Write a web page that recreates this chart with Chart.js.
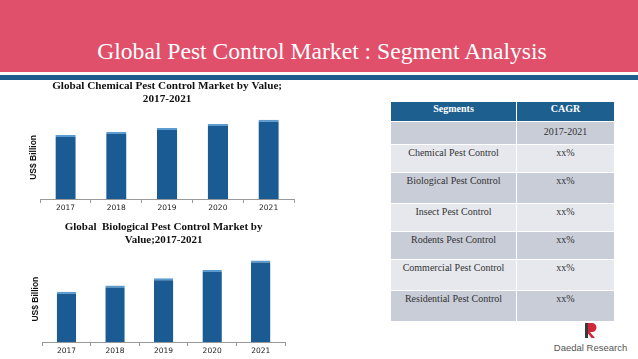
<!DOCTYPE html>
<html>
<head>
<meta charset="utf-8">
<script src="https://cdn.jsdelivr.net/npm/chart.js@4.4.1/dist/chart.umd.min.js"></script>
<style>
  html, body { margin: 0; padding: 0; }
  body { width: 638px; height: 359px; background: #fff; position: relative; overflow: hidden; font-family: 'Liberation Serif', serif; }
  .band { position: absolute; left: 0; top: 0; width: 638px; height: 72px; background: #e0506b; }
  .band-white { position: absolute; left: 0; top: 72px; width: 638px; height: 3px; background: #fff; }
  .band-blue { position: absolute; left: 0; top: 75px; width: 638px; height: 5px; background: #1f5e8c; }
  .page-title { position: absolute; left: 3px; top: 37px; width: 638px; text-align: center; color: #fff; font-size: 23.6px; line-height: 28px; }
  .box { position: absolute; }
  #chemBox { left: 24px; top: 78px; width: 286px; height: 136px; }
  #bioBox { left: 26px; top: 219px; width: 275px; height: 138px; }
  table { position: absolute; left: 390px; top: 101px; width: 225px; border-collapse: collapse; font-size: 10px; color: #333; }
  td, th { border: 1px solid #fff; text-align: center; vertical-align: top; padding: 2px 2px 0 2px; line-height: 11px; }
  th { background: #1d5f8f; color: #fff; font-weight: bold; height: 18px; padding-top: 1px; }
  tr.dark td { background: #c9cdd8; }
  tr.light td { background: #e6e8ee; }
  .logo { position: absolute; left: 548px; top: 322px; width: 85px; text-align: center; }
  .logo span { display: block; font-family: 'Liberation Sans', sans-serif; font-size: 9.5px; color: #555; margin-top: -1px; }
</style>
</head>
<body>
<div class="band"></div>
<div class="band-white"></div>
<div class="band-blue"></div>
<div class="page-title">Global Pest Control Market : Segment Analysis</div>

<div class="box" id="chemBox"><canvas id="chemChart"></canvas></div>
<div class="box" id="bioBox"><canvas id="bioChart"></canvas></div>

<table id="cagrTable"></table>

<div class="logo">
  <svg width="16" height="17" viewBox="0 0 16 17">
    <rect x="2" y="1" width="3" height="15" fill="#3a3a3a"/>
    <path d="M5 1 H9 A4.5 4.5 0 0 1 9 10 H7 L12 16 H8.5 L5 11.5 Z" fill="#d0283a"/>
  </svg>
  <span>Daedal Research</span>
</div>

<script>
// --- data ---
const years = ['2017', '2018', '2019', '2020', '2021'];
const chemicalValues = [6.3, 6.6, 7.0, 7.4, 7.8];
const biologicalValues = [4.8, 5.4, 6.1, 6.9, 7.8];

const segments = ['Chemical Pest Control', 'Biological Pest Control', 'Insect Pest Control',
    'Rodents Pest Control', 'Commercial Pest Control', 'Residential Pest Control'];
const cagrValues = ['xx%', 'xx%', 'xx%', 'xx%', 'xx%', 'xx%'];
const rowHeights = [28, 31, 28, 28, 31, 31];

const barFill = '#1a5b94';
const barTop = '#5b9bd0';

function buildTable() {
    const t = document.getElementById('cagrTable');
    let html = '<tr><th style="width:121px">Segments</th><th>CAGR</th></tr>';
    html += '<tr class="dark"><td style="height:20px"></td><td style="padding-top:4px">2017-2021</td></tr>';
    segments.forEach((s, i) => {
        const cls = i % 2 === 0 ? 'light' : 'dark';
        html += '<tr class="' + cls + '"><td style="height:' + (rowHeights[i] - 3) + 'px">' + s +
            '</td><td>' + cagrValues[i] + '</td></tr>';
    });
    t.innerHTML = html;
}

function renderBarChart(id, titleLines, values, yMax, titleSize) {
    const ctx = document.getElementById(id).getContext('2d');
    new Chart(ctx, {
        type: 'bar',
        data: {
            labels: years,
            datasets: [{
                data: values,
                backgroundColor: barFill,
                borderColor: barTop,
                borderWidth: { top: 2, left: 0, right: 0, bottom: 0 },
                borderSkipped: false,
                categoryPercentage: 1,
                barPercentage: 0.4
            }]
        },
        options: {
            responsive: true,
            maintainAspectRatio: false,
            animation: false,
            layout: { padding: { left: 0, right: 16, top: 0, bottom: 0 } },
            plugins: {
                legend: { display: false },
                tooltip: { enabled: false },
                title: {
                    display: true,
                    fullSize: false,
                    text: titleLines,
                    color: '#111',
                    font: { family: 'Liberation Serif', size: titleSize, weight: 'bold', lineHeight: 1.15 },
                    padding: { top: 2, bottom: 10 }
                }
            },
            scales: {
                x: {
                    offset: true,
                    grid: { display: true, drawOnChartArea: false, drawTicks: true, tickLength: 4, color: '#999', offset: true },
                    border: { display: true, color: '#999' },
                    ticks: { color: '#222', font: { family: 'DejaVu Sans', size: 7.5 }, padding: 1 }
                },
                y: {
                    min: 0,
                    max: yMax,
                    grid: { display: false, drawTicks: false },
                    border: { display: false },
                    ticks: { display: false },
                    title: {
                        display: true,
                        text: 'US$ Billion',
                        color: '#111',
                        font: { family: 'Liberation Sans', size: 8.5, weight: 'bold' },
                        padding: { top: 5, bottom: 1 }
                    }
                }
            }
        }
    });
}

buildTable();
renderBarChart('chemChart', ['Global Chemical Pest Control Market by Value;', '2017-2021'], chemicalValues, 8.2, 11.2);
renderBarChart('bioChart', ['Global  Biological Pest Control Market by', 'Value;2017-2021'], biologicalValues, 8.2, 11);
</script>
</body>
</html>
